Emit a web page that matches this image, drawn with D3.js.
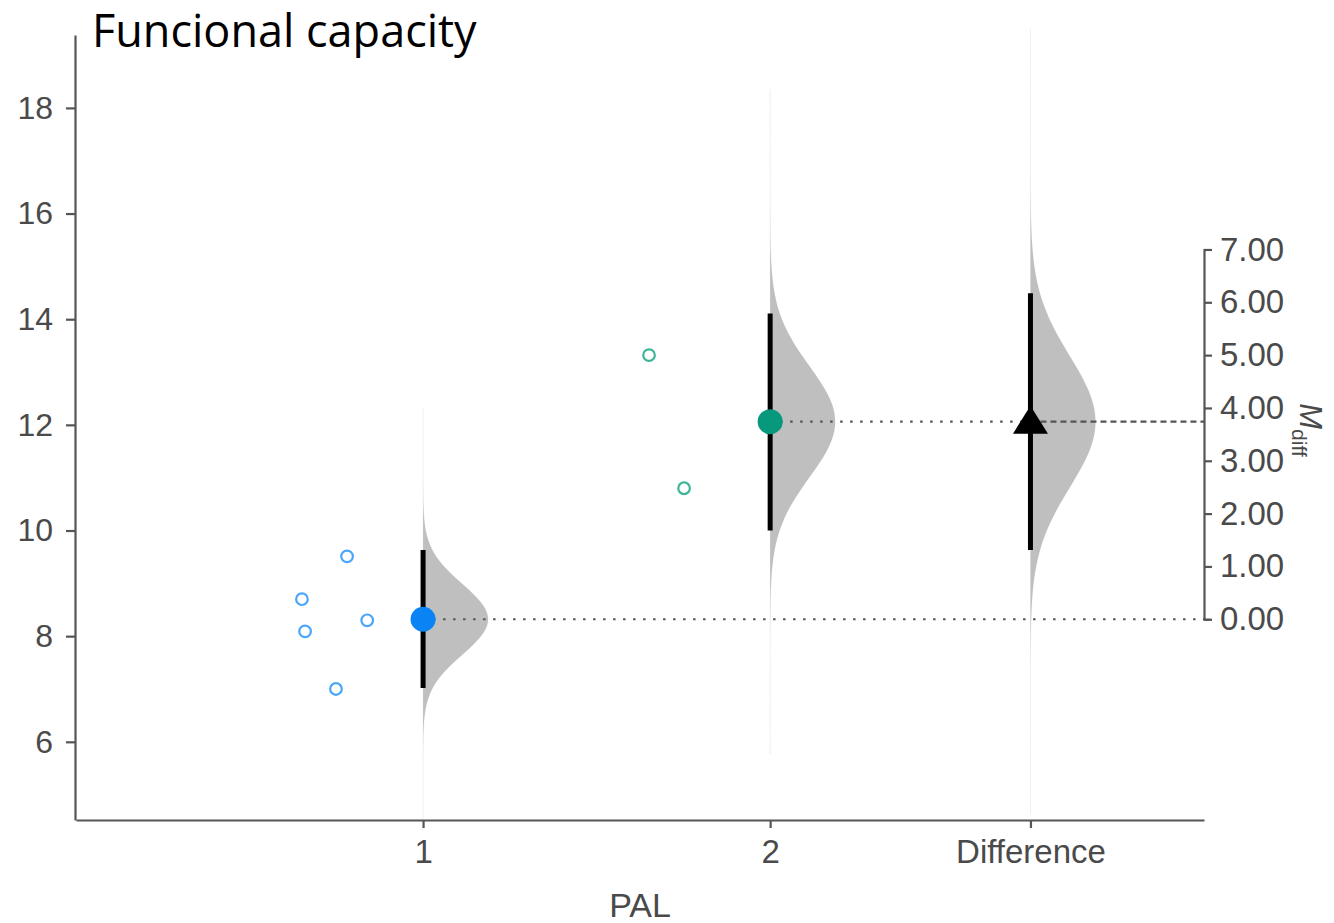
<!DOCTYPE html>
<html>
<head>
<meta charset="utf-8">
<script src="https://cdn.jsdelivr.net/npm/d3@7"></script>
<style>
  html, body { margin: 0; padding: 0; background: #ffffff; }
  svg { display: block; }
</style>
</head>
<body>
<script>
// ---------------- data ----------------
const categories = ["1", "2", "Difference"];
const categoryPos = [1, 2, 2.75];
const yTicks = [6, 8, 10, 12, 14, 16, 18];
const diffTicks = [0, 1, 2, 3, 4, 5, 6, 7];

const group1Values = [8.70, 8.09, 7.00, 9.51, 8.30];
const group1Jitter = [-0.349, -0.340, -0.251, -0.219, -0.161];
const group2Values = [13.32, 10.80];
const group2Jitter = [-0.349, -0.248];

const groupMeans = [8.32, 12.06];
const groupCILow = [7.02, 10.00];
const groupCIHigh = [9.63, 14.11];

const diffMean = 3.74;
const diffCILow = 1.31;
const diffCIHigh = 6.17;

const titleText = "Funcional capacity";
const xTitle = "PAL";

// ---------------- layout ----------------
const W = 1334, H = 923;
const svg = d3.select("body").append("svg").attr("width", W).attr("height", H);

const x = d3.scaleLinear().domain([0, 3.25]).range([76, 1204]);
const y = d3.scaleLinear().domain([4.52, 19.38]).range([820, 35]);
const yd = d3.scaleLinear().domain([0, 7]).range([y(groupMeans[0]), y(groupMeans[0] + 7)]);

const axisColor = "#555555";
const textColor = "#4a4a4a";
const tickFont = "'Liberation Sans', Arial, sans-serif";

// ---------------- distributions ----------------
function drawDist(cx, mean, lo, hi, scale) {
  const sigma = (hi - lo) / 2 / 1.96;
  const pts = d3.range(-6, 6.0001, 0.05).map(z => ({ v: mean + z * sigma, d: Math.exp(-0.5 * z * z) }));
  const area = d3.area()
    .curve(d3.curveBasis)
    .y(p => scale(p.v))
    .x0(x(cx))
    .x1(p => x(cx) + 65 * p.d);
  svg.append("path").datum(pts).attr("d", area)
    .attr("fill", "#bfbfbf").attr("stroke", "#bfbfbf").attr("stroke-opacity", 0.12).attr("stroke-width", 1);
}
drawDist(categoryPos[0], groupMeans[0], groupCILow[0], groupCIHigh[0], y);
drawDist(categoryPos[1], groupMeans[1], groupCILow[1], groupCIHigh[1], y);
drawDist(categoryPos[2], diffMean, diffCILow, diffCIHigh, yd);

// ---------------- reference lines ----------------
const g1y = y(groupMeans[0]);
const g2y = y(groupMeans[1]);
svg.append("line").attr("x1", x(categoryPos[0])).attr("x2", x(3.25)).attr("y1", g1y).attr("y2", g1y)
  .attr("stroke", "#555").attr("stroke-width", 2.2).attr("stroke-dasharray", "2.5,7.5");
svg.append("line").attr("x1", x(categoryPos[1])).attr("x2", x(categoryPos[2])).attr("y1", g2y).attr("y2", g2y)
  .attr("stroke", "#555").attr("stroke-width", 2.2).attr("stroke-dasharray", "2.5,7.5");
svg.append("line").attr("x1", x(categoryPos[2])).attr("x2", x(3.25)).attr("y1", yd(diffMean)).attr("y2", yd(diffMean))
  .attr("stroke", "#555").attr("stroke-width", 2.2).attr("stroke-dasharray", "6,4");

// ---------------- raw points ----------------
svg.append("g").selectAll("circle").data(group1Values).join("circle")
  .attr("cx", (d, i) => x(categoryPos[0] + group1Jitter[i]))
  .attr("cy", d => y(d))
  .attr("r", 5.8).attr("fill", "none").attr("stroke", "#4aa6fb").attr("stroke-width", 2.2);
svg.append("g").selectAll("circle").data(group2Values).join("circle")
  .attr("cx", (d, i) => x(categoryPos[1] + group2Jitter[i]))
  .attr("cy", d => y(d))
  .attr("r", 5.8).attr("fill", "none").attr("stroke", "#3cb598").attr("stroke-width", 2.2);

// ---------------- CIs ----------------
[0, 1].forEach(i => {
  svg.append("line").attr("x1", x(categoryPos[i])).attr("x2", x(categoryPos[i]))
    .attr("y1", y(groupCILow[i])).attr("y2", y(groupCIHigh[i]))
    .attr("stroke", "#000").attr("stroke-width", 5);
});
svg.append("line").attr("x1", x(categoryPos[2])).attr("x2", x(categoryPos[2]))
  .attr("y1", yd(diffCILow)).attr("y2", yd(diffCIHigh))
  .attr("stroke", "#000").attr("stroke-width", 5);

// ---------------- means ----------------
const meanColors = ["#0a84f5", "#08997c"];
[0, 1].forEach(i => {
  svg.append("circle").attr("cx", x(categoryPos[i])).attr("cy", y(groupMeans[i]))
    .attr("r", 12.5).attr("fill", meanColors[i]);
});
{
  const cx = x(categoryPos[2]), cy = yd(diffMean);
  svg.append("path")
    .attr("d", `M${cx},${cy - 16} L${cx + 17.5},${cy + 12} L${cx - 17.5},${cy + 12} Z`)
    .attr("fill", "#000");
}

// ---------------- axes ----------------
const yAxis = svg.append("g").attr("transform", `translate(${x(0) - 1},0)`)
  .call(d3.axisLeft(y).tickValues(yTicks).tickSize(9).tickSizeOuter(0).tickPadding(13));
const xAxis = svg.append("g").attr("transform", `translate(0,${y(4.52)})`)
  .call(d3.axisBottom(x).tickValues(categoryPos).tickFormat((d, i) => categories[i]).tickSize(8).tickSizeOuter(0).tickPadding(12));
const rAxis = svg.append("g").attr("transform", `translate(${x(3.25)},0)`)
  .call(d3.axisRight(yd).tickValues(diffTicks).tickFormat(d3.format(".2f")).tickSize(8).tickSizeOuter(6).tickPadding(8));

[yAxis, xAxis, rAxis].forEach(a => {
  a.select(".domain").attr("stroke", axisColor).attr("stroke-width", 2.2);
  a.selectAll(".tick line").attr("stroke", axisColor).attr("stroke-width", 2.2);
  a.selectAll(".tick text").attr("fill", textColor).attr("font-family", tickFont);
});
yAxis.selectAll(".tick text").attr("font-size", 32);
xAxis.selectAll(".tick text").attr("font-size", 33);
rAxis.selectAll(".tick text").attr("font-size", 33);

// ---------------- labels ----------------
svg.append("text").attr("x", 92).attr("y", 47)
  .attr("font-family", "'Open Sans', 'Noto Sans', sans-serif").attr("font-size", 45)
  .attr("fill", "#000").text(titleText);

svg.append("text").attr("x", 640).attr("y", 917).attr("text-anchor", "middle")
  .attr("font-family", tickFont).attr("font-size", 34).attr("fill", textColor).text(xTitle);

const ml = svg.append("text").attr("transform", `translate(1300,430) rotate(90)`)
  .attr("text-anchor", "middle").attr("font-family", tickFont).attr("fill", textColor);
ml.append("tspan").attr("font-style", "italic").attr("font-size", 31).text("M");
ml.append("tspan").attr("font-size", 21).attr("dy", 8).text("diff");
</script>
</body>
</html>
